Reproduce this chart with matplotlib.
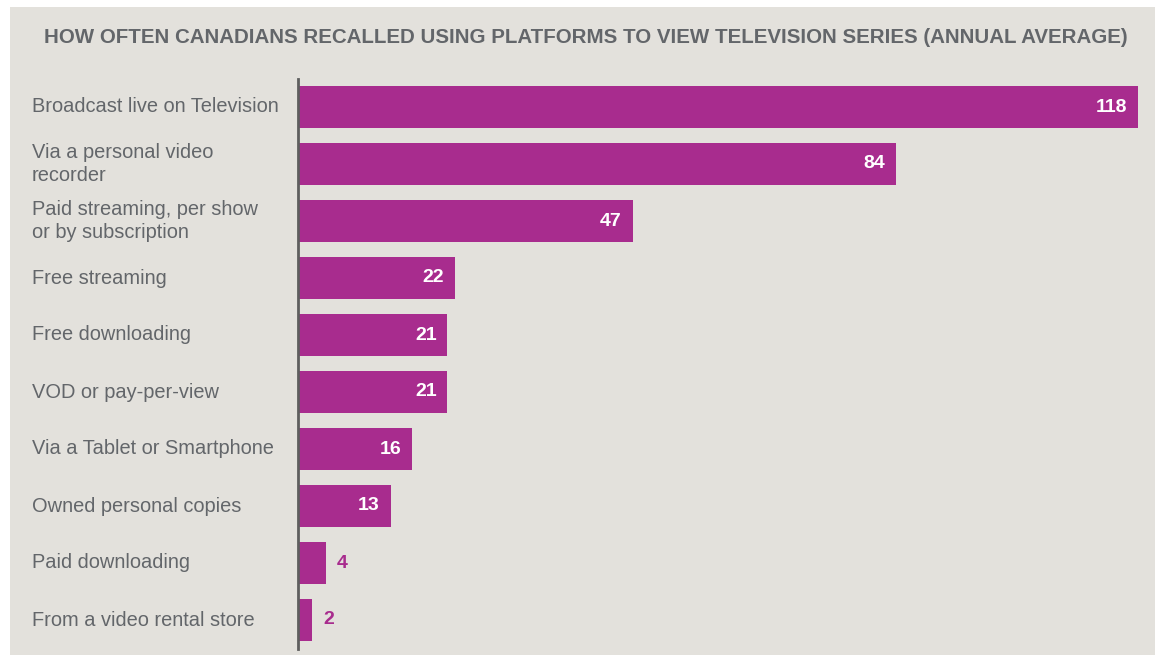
import matplotlib.pyplot as plt
from matplotlib.patches import Rectangle
from matplotlib.transforms import blended_transform_factory

# Data
platforms = ['Broadcast live on Television',
             'Via a personal video\nrecorder',
             'Paid streaming, per show\nor by subscription',
             'Free streaming',
             'Free downloading',
             'VOD or pay-per-view',
             'Via a Tablet or Smartphone',
             'Owned personal copies',
             'Paid downloading',
             'From a video rental store']
views = [118, 84, 47, 22, 21, 21, 16, 13, 4, 2]

bar_color = '#A82C8E'
bg_color = '#E3E1DC'
text_color = '#63666A'

plt.rcParams['font.family'] = ['Liberation Sans', 'DejaVu Sans']

fig = plt.figure(figsize=(11.55, 6.55), dpi=100)
fig.patch.set_facecolor('white')
# grey panel
fig.patches.append(Rectangle((10 / 1155, 0), 1.0, 1 - 7 / 655,
                             transform=fig.transFigure, facecolor=bg_color,
                             edgecolor='none', zorder=-5))

ax = fig.add_axes([298 / 1155, 6.5 / 655, 840 / 1155, 570 / 655])
ax.set_facecolor('none')
ax.set_zorder(2)

y = list(range(len(platforms)))
ax.barh(y, views, height=0.74, color=bar_color, zorder=2)
ax.set_xlim(0, 118)
ax.set_ylim(9.5, -0.5)

for i, v in enumerate(views):
    if v >= 10:
        ax.text(v - 1.5, i, str(v), ha='right', va='center', color='white',
                fontsize=14, fontweight='bold')
    else:
        ax.text(v + 1.5, i, str(v), ha='left', va='center', color=bar_color,
                fontsize=14, fontweight='bold')

trans = blended_transform_factory(fig.transFigure, ax.transData)
for i, name in enumerate(platforms):
    ax.text(32 / 1155, i, name, transform=trans, ha='left', va='center',
            color=text_color, fontsize=14.4, linespacing=1.3, clip_on=False)

ax.set_xticks([])
ax.set_yticks([])
for side in ['top', 'right', 'bottom']:
    ax.spines[side].set_visible(False)
ax.spines['left'].set_color('#5E5E5E')
ax.spines['left'].set_linewidth(2)

fig.text(586 / 1155, 1 - 37.5 / 655,
         'HOW OFTEN CANADIANS RECALLED USING PLATFORMS TO VIEW TELEVISION SERIES (ANNUAL AVERAGE)',
         ha='center', va='center', color=text_color, fontsize=14.8, fontweight='bold')

fig.savefig('out.png', dpi=100, facecolor='white')
